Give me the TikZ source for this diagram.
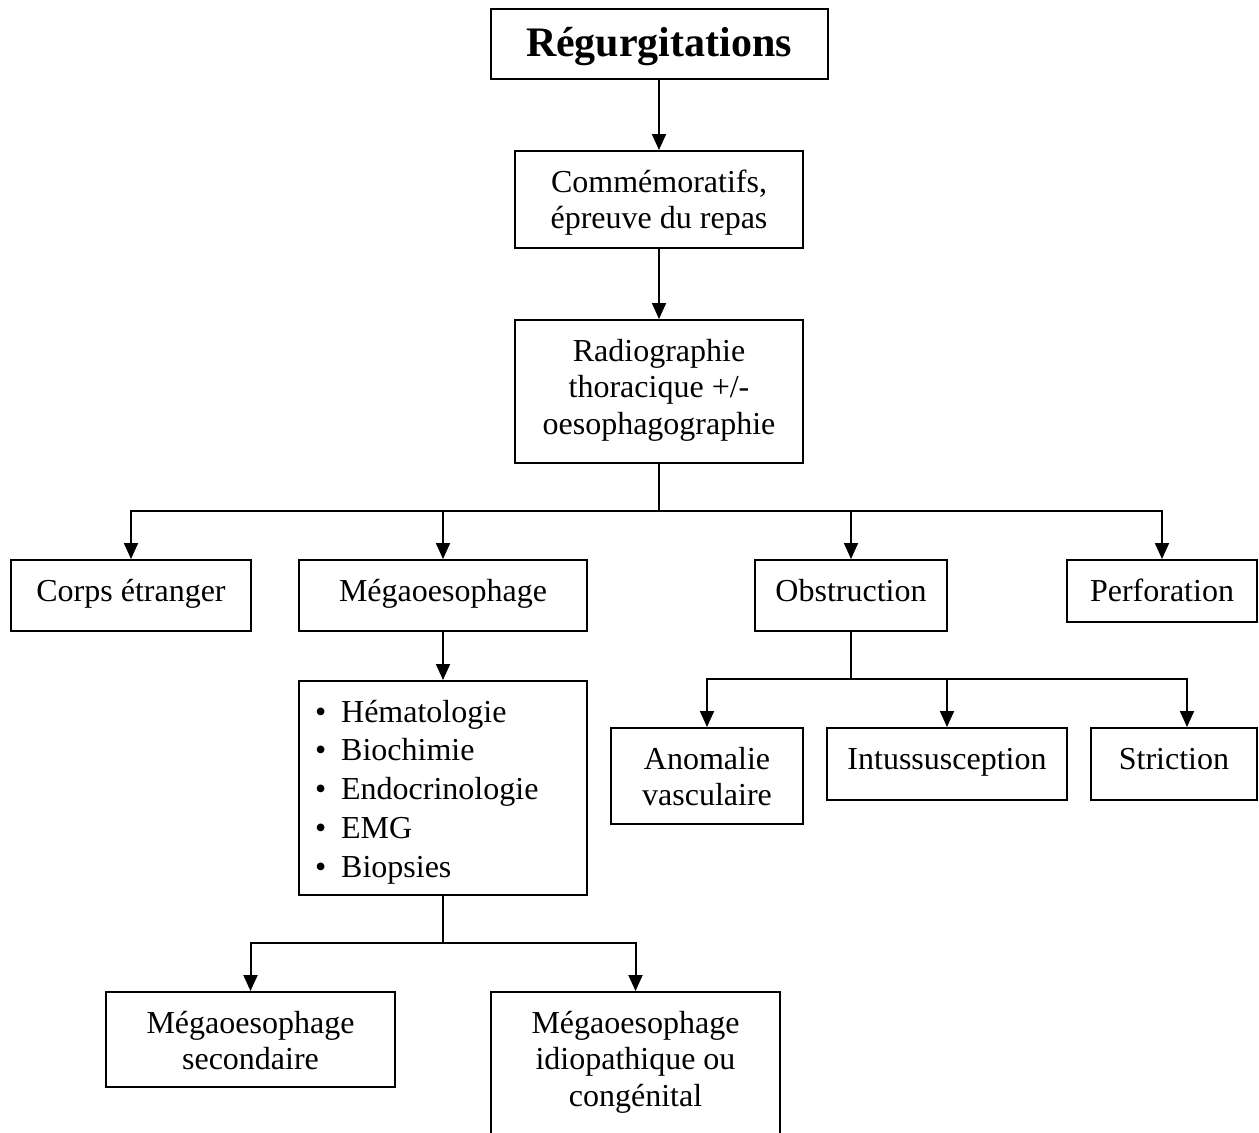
\documentclass[tikz,border=0pt]{standalone}
\usepackage{fontspec}
\setmainfont{Liberation Serif}
\usetikzlibrary{arrows.meta}

% multi-line cell whose baseline is its first line
\newcommand{\mlc}[1]{\begin{tabular}[t]{@{}c@{}}#1\end{tabular}}
\newcommand{\mll}[1]{\begin{tabular}[t]{@{}l@{}}#1\end{tabular}}

\tikzset{
  box/.style={draw, line width=1pt, inner sep=0pt, anchor=north,
    text height=20.5pt, font=\fontsize{16}{18.3}\selectfont},
  arr/.style={line width=1pt, -{Triangle[width=7pt,length=8pt]}},
  link/.style={line width=1pt},
}

\begin{document}
\begin{tikzpicture}[x=0.5pt,y=-0.5pt]
\useasboundingbox (0,0) rectangle (1259,1132);

% main chain
\node[box, minimum width=168.5pt, text height=23.5pt, text depth=11.5pt,
      font=\fontsize{21}{25}\selectfont\bfseries] (title) at (659,8) {Régurgitations};
\node[box, minimum width=144pt, text depth=28pt] (comm) at (659,150)
  {\mlc{Commémoratifs,\\épreuve du repas}};
\node[box, minimum width=144pt, text depth=51pt] (radio) at (659,319)
  {\mlc{Radiographie\\thoracique +/-\\oesophagographie}};

% first level of findings
\node[box, minimum width=120pt, text depth=15pt] (corps) at (131,559) {Corps étranger};
\node[box, minimum width=144pt, text depth=15pt] (mega) at (443,559) {Mégaoesophage};
\node[box, minimum width=96pt, text depth=15pt] (obst) at (851,559) {Obstruction};
\node[box, minimum width=95pt, text depth=10.5pt] (perf) at (1162,559) {Perforation};

% work-up of the megaoesophagus
\node[box, minimum width=144pt, text depth=86.5pt,
      font=\fontsize{16}{19.4}\selectfont] (list) at (443,680)
  {\makebox[128pt][l]{\mll{\textbullet\hspace{7.5pt}Hématologie\\
   \textbullet\hspace{7.5pt}Biochimie\\
   \textbullet\hspace{7.5pt}Endocrinologie\\
   \textbullet\hspace{7.5pt}EMG\\
   \textbullet\hspace{7.5pt}Biopsies}}};

% causes of obstruction
\node[box, minimum width=96pt, text depth=27.5pt] (anom) at (707,727)
  {\mlc{Anomalie\\vasculaire}};
\node[box, minimum width=120pt, text depth=15.5pt] (intus) at (947,727) {Intussusception};
\node[box, minimum width=83pt, text depth=15.5pt] (stric) at (1174,727) {Striction};

% forms of megaoesophagus
\node[box, minimum width=144.5pt, text depth=27pt] (msec) at (250.5,991)
  {\mlc{Mégaoesophage\\secondaire}};
\node[box, minimum width=144.5pt, text depth=51.5pt] (midio) at (635.5,991)
  {\mlc{Mégaoesophage\\idiopathique ou\\congénital}};

% branching points
\coordinate (b1) at (659,511);
\coordinate (e1) at (851,679);
\coordinate (s1) at (1187,679);
\coordinate (d1) at (443,943);

% connectors
\draw[arr] (title.south) -- (comm.north);
\draw[arr] (comm.south) -- (radio.north);
\draw[link] (radio.south) -- (b1);
\draw[arr] (b1) -| (corps.north);
\draw[arr] (b1) -| (mega.north);
\draw[arr] (b1) -| (obst.north);
\draw[arr] (b1) -| (perf.north);

\draw[arr] (mega.south) -- (list.north);
\draw[link] (list.south) -- (d1);
\draw[arr] (d1) -| (msec.north);
\draw[arr] (d1) -| (midio.north);

\draw[link] (obst.south) -- (e1);
\draw[arr] (e1) -| (anom.north);
\draw[arr] (e1) -| (intus.north);
\draw[arr] (e1) -- (s1) -- (s1 |- stric.north);
\end{tikzpicture}
\end{document}
